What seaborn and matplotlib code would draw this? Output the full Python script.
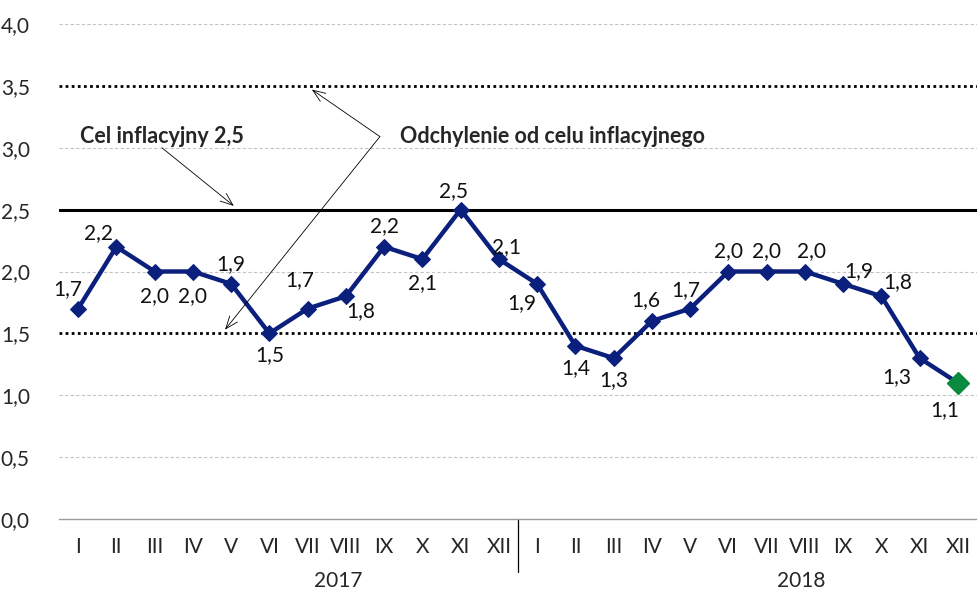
import matplotlib
matplotlib.use("Agg")
import matplotlib.pyplot as plt
import matplotlib.transforms as mtransforms
import numpy as np
import pandas as pd
import seaborn as sns

# data
months = ["I", "II", "III", "IV", "V", "VI", "VII", "VIII", "IX", "X", "XI", "XII"] * 2
years = ["2017", "2018"]
inflation = [1.7, 2.2, 2.0, 2.0, 1.9, 1.5, 1.7, 1.8, 2.2, 2.1, 2.5, 2.1,
             1.9, 1.4, 1.3, 1.6, 1.7, 2.0, 2.0, 2.0, 1.9, 1.8, 1.3, 1.1]
target = 2.5
band = [1.5, 3.5]
y_ticks = [0.0, 0.5, 1.0, 1.5, 2.0, 2.5, 3.0, 3.5, 4.0]

# label offsets in pixels (dx, dy)
label_offsets = [(-10, 20), (-18, 14), (0, -25), (0, -25), (0, 20), (0, -22),
                 (-8, 29), (15, -15), (0, 21), (0, -24), (-7, 19), (8, 12),
                 (-15, -19), (0, -22), (0, -22), (-6, 21), (-4, 19), (0, 20),
                 (0, 20), (7, 20), (16, 13), (16, 14), (-23, -19), (-13, -27)]

sns.set_style("white")
plt.rcParams["font.family"] = ["Lato", "DejaVu Sans"]

df = pd.DataFrame({"x": np.arange(len(inflation)), "value": inflation})

fig = plt.figure(figsize=(9.77, 5.92), dpi=100)
ax = fig.add_axes([59 / 977, 1 - 519 / 592, 1 - 59 / 977, (519 - 24) / 592])

navy = "#0b1f7c"
green = "#0a8a3f"
fs = 15

# grid
for yv in y_ticks:
    if yv == 0:
        continue
    if yv in band:
        ax.axhline(yv, color="black", lw=2.0, ls=(0, (1, 1.2)), zorder=1)
    elif yv == target:
        ax.axhline(yv, color="black", lw=2.2, zorder=1)
    else:
        ax.axhline(yv, color="#c4c4c4", lw=0.8, ls=(0, (3, 2)), zorder=1)

sns.lineplot(data=df, x="x", y="value", ax=ax, color=navy, lw=3.2,
             marker="D", markersize=8, markeredgecolor=navy, zorder=3)
ax.plot(df["x"].iloc[-1], df["value"].iloc[-1], marker="D", markersize=11,
        color=green, markeredgecolor=green, zorder=4)

for i, v in enumerate(inflation):
    dx, dy = label_offsets[i]
    ax.annotate(f"{v:.1f}".replace(".", ","), (i, v), xytext=(dx * 0.72, dy * 0.72),
                textcoords="offset points", ha="center", va="center",
                fontsize=fs, color="#111111", zorder=5)

ax.set_xlim(-0.5, len(inflation) - 0.5)
ax.set_ylim(0, 4.0)
ax.set_yticks(y_ticks)
ax.set_yticklabels([f"{t:.1f}".replace(".", ",") for t in y_ticks], fontsize=fs)
ax.set_xticks(np.arange(len(inflation)))
ax.set_xticklabels(months, fontsize=fs)
ax.set_xticks(np.arange(-0.5, len(inflation)), minor=True)
ax.tick_params(axis="x", which="major", length=0, pad=13)
ax.tick_params(axis="x", which="minor", length=6, color="#9a9a9a", width=0.9)
ax.tick_params(axis="y", length=0, pad=21)
ax.set_xlabel("")
ax.set_ylabel("")
for s in ["left", "right", "top"]:
    ax.spines[s].set_visible(False)
ax.spines["bottom"].set_color("#9a9a9a")
ax.spines["bottom"].set_linewidth(1.0)

# year separator and labels
trans = mtransforms.blended_transform_factory(ax.transData, ax.transAxes)
ax.plot([11.5, 11.5], [0, -0.107], color="black", lw=0.9, transform=trans, clip_on=False)
ax.text(6.8, -0.125, years[0], transform=trans, ha="center", va="center", fontsize=fs)
ax.text(18.9, -0.125, years[1], transform=trans, ha="center", va="center", fontsize=fs)

# annotations
arrow = dict(arrowstyle="->,head_length=0.9,head_width=0.35", color="black", lw=0.6,
             shrinkA=0, shrinkB=0)
ax.text(0.05, 3.09, "Cel inflacyjny 2,5", fontsize=15.5, fontweight="bold",
        ha="left", va="center")
ax.annotate("", xy=(4.07, 2.53), xytext=(2.19, 3.0), arrowprops=arrow)
ax.text(8.41, 3.09, "Odchylenie od celu inflacyjnego", fontsize=15.5, fontweight="bold",
        ha="left", va="center")
ax.annotate("", xy=(6.11, 3.47), xytext=(7.89, 3.09), arrowprops=arrow)
ax.annotate("", xy=(3.84, 1.53), xytext=(7.89, 3.09), arrowprops=arrow)

fig.savefig("out.png", dpi=100)
